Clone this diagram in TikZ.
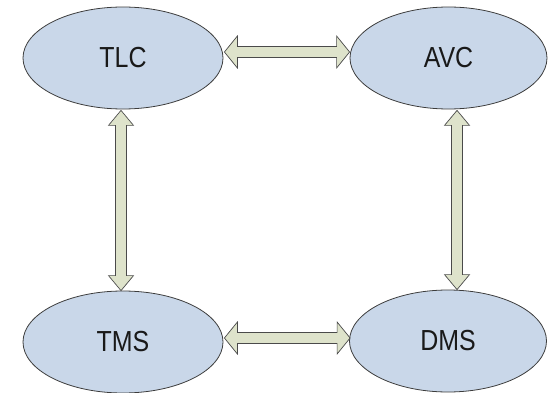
\documentclass[tikz,border=0pt]{standalone}
\usepackage{fontspec}
\setmainfont{Liberation Sans}[FakeStretch=0.86]
\usetikzlibrary{shapes.geometric,calc}

\definecolor{nodefill}{HTML}{C9D7E9}
\definecolor{nodeline}{HTML}{3C3C3C}
\definecolor{arrowfill}{HTML}{DEE3CB}
\definecolor{arrowline}{HTML}{4A4A4A}

\tikzset{
  sysnode/.style={ellipse, draw=nodeline, fill=nodefill, line width=0.8pt,
    minimum width=200pt, minimum height=102pt, inner sep=0pt,
    font=\fontsize{29}{29}\selectfont, text=black!90},
  blockarrow/.style={draw=arrowline, fill=arrowfill, line width=0.7pt, line join=miter}
}

% double-headed block arrow, horizontal: #1 left tip, #2 right tip
\newcommand\hbiarrow[2]{%
  \draw[blockarrow] let \p1=(#1), \p2=(#2) in
    (\x1,\y1) -- (\x1+13pt,\y1+16pt) -- (\x1+13pt,\y1+5.5pt)
    -- (\x2-13pt,\y1+5.5pt) -- (\x2-13pt,\y1+16pt) -- (\x2,\y1)
    -- (\x2-13pt,\y1-16pt) -- (\x2-13pt,\y1-5.5pt)
    -- (\x1+13pt,\y1-5.5pt) -- (\x1+13pt,\y1-16pt) -- cycle;}

% double-headed block arrow, vertical: #1 upper tip, #2 lower tip
\newcommand\vbiarrow[2]{%
  \draw[blockarrow] let \p1=(#1), \p2=(#2) in
    (\x1,\y1) -- (\x1+12.5pt,\y1-15pt) -- (\x1+5.5pt,\y1-15pt)
    -- (\x1+5.5pt,\y2+15pt) -- (\x1+12.5pt,\y2+15pt) -- (\x1,\y2)
    -- (\x1-12.5pt,\y2+15pt) -- (\x1-5.5pt,\y2+15pt)
    -- (\x1-5.5pt,\y1-15pt) -- (\x1-12.5pt,\y1-15pt) -- cycle;}

\begin{document}
\begin{tikzpicture}[x=1pt, y=-1pt]
  \useasboundingbox (0,0) rectangle (554,393);

  \node[sysnode] (tlc) at (123,58) {TLC};
  \node[sysnode, minimum width=197pt] (avc) at (448.5,58) {AVC};
  \node[sysnode] (tms) at (123,342) {TMS};
  \node[sysnode, minimum width=197pt] (dms) at (448,341) {DMS};

  % arrow tips, slightly above the ellipse centres for the horizontal links
  \coordinate (tlcE) at ([shift={(1pt,6pt)}]tlc.east);
  \coordinate (avcW) at ([shift={(0pt,6pt)}]avc.west);
  \coordinate (tmsE) at ([shift={(1pt,4pt)}]tms.east);
  \coordinate (dmsW) at ([shift={(1pt,4pt)}]dms.west);
  \coordinate (tlcS) at ([shift={(-2pt,-1pt)}]tlc.south);
  \coordinate (tmsN) at ([shift={(-2pt,0pt)}]tms.north);
  \coordinate (avcS) at ([shift={(8.5pt,-1pt)}]avc.south);
  \coordinate (dmsN) at ([shift={(9pt,0pt)}]dms.north);

  \hbiarrow{tlcE}{avcW}
  \hbiarrow{tmsE}{dmsW}
  \vbiarrow{tlcS}{tmsN}
  \vbiarrow{avcS}{dmsN}
\end{tikzpicture}
\end{document}
